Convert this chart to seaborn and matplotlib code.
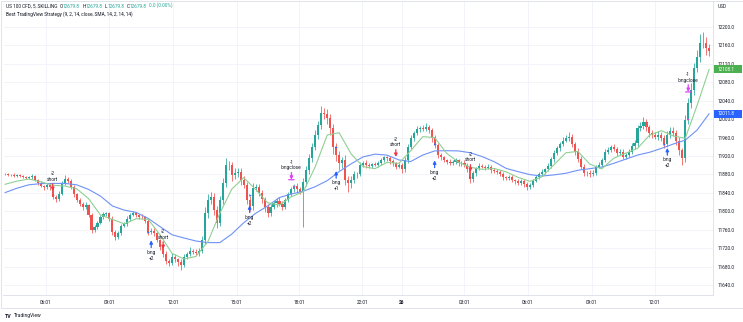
import numpy as np
import pandas as pd
import matplotlib
matplotlib.use("Agg")
import matplotlib.pyplot as plt
import matplotlib.transforms as mtransforms
from matplotlib.patches import Rectangle
import seaborn as sns

# ---------------- data ----------------
first_open = 11880.0
closes = [
    11881, 11879, 11879.5, 11876.5, 11878, 11876, 11874.5, 11872, 11873.5, 11876.5,
    11868, 11862, 11855, 11852, 11856.5, 11852, 11831.5, 11827, 11837.5, 11860.5,
    11871, 11866.5, 11852, 11837.5, 11824.5, 11816, 11808.5, 11813.5, 11792, 11759.5,
    11765, 11775, 11787, 11794, 11795.5, 11784, 11755.5, 11745, 11752, 11768,
    11772.5, 11784, 11792, 11795.5, 11791, 11788.5, 11787, 11779.5, 11755.5, 11758,
    11752, 11737.5, 11723, 11707, 11693, 11688.5, 11701.5, 11695.5, 11690, 11683.5,
    11701.5, 11707, 11714.5, 11712.5, 11710, 11714.5, 11737.5, 11795.5, 11824.5, 11831.5,
    11802.5, 11775, 11824.5, 11860.5, 11900.5, 11900, 11878.5, 11884, 11886, 11868,
    11857, 11824.5, 11811.5, 11850, 11852, 11840.5, 11826, 11808.5, 11797, 11810,
    11817, 11823, 11816, 11810, 11824.5, 11837.5, 11847.5, 11855, 11847.5, 11842.5,
    11864, 11889.5, 11915, 11940, 11965.5, 11987, 12012.5, 12011, 12001.5, 11980,
    11940, 11922, 11904, 11911.5, 11868, 11860.5, 11868, 11881,
    11881, 11900.5, 11905.5, 11900, 11898.5, 11902.5, 11901, 11905.5, 11911.5, 11917, 11915, 11908.5,
    11904, 11897, 11900, 11891, 11911.5, 11940.5, 11958.5, 11969, 11978, 11980,
    11979.5, 11982, 11976.5, 11958.5, 11944, 11922, 11917, 11911.5, 11907.5, 11905.5,
    11907.5, 11911.5, 11904, 11905.5, 11900, 11891, 11869.5, 11882.5, 11893, 11898.5,
    11897, 11894, 11897, 11889.5, 11888, 11885.5, 11881, 11873.5, 11872.5, 11875,
    11868, 11865, 11862, 11866.5, 11859, 11853.5, 11857, 11866.5, 11873.5, 11881,
    11886, 11891, 11898.5, 11913, 11927, 11936.5, 11946, 11953.5, 11958.5, 11962,
    11946, 11929.5, 11913, 11897, 11882.5, 11884, 11881, 11884, 11897, 11900.5,
    11911.5, 11929.5, 11933, 11939, 11936, 11926, 11929.5, 11918.5, 11922, 11929.5,
    11941.5, 11947.5, 11980, 11985, 11994.5, 11982, 11969, 11965.5, 11962, 11965.5,
    11958.5, 11946, 11965.5, 11975, 11970.5, 11953.5, 11933, 11915, 11998, 12034.5,
    12063.5, 12110.5, 12134, 12164.5, 12166, 12153.5, 12148.5,
]
up_wick = [
    2, 3, 2, 3, 2, 2, 3, 2, 3, 4,
    3, 2, 4, 3, 5, 4, 3, 4, 6, 5,
    8, 4, 3, 4, 3, 5, 4, 6, 3, 4,
    5, 4, 6, 5, 4, 3, 5, 4, 6, 5,
    4, 5, 4, 6, 3, 4, 5, 3, 4, 5,
    5, 4, 3, 5, 6, 4, 7, 5, 4, 6,
    6, 5, 7, 4, 6, 5, 9, 14, 12, 10,
    8, 10, 9, 11, 15, 9, 8, 10, 7, 9,
    8, 6, 9, 12, 7, 8, 6, 5, 7, 6,
    6, 5, 7, 6, 5, 4, 6, 5, 7, 5,
    8, 9, 10, 8, 12, 9, 16, 12, 10, 9,
    10, 8, 9, 7, 10, 8, 9, 6,
    5, 6, 4, 5, 4, 3, 5, 4, 5, 4, 3, 4,
    4, 3, 5, 4, 6, 5, 7, 6, 8, 5,
    7, 9, 6, 5, 6, 4, 5, 4, 3, 5,
    4, 5, 3, 4, 5, 4, 6, 5, 4, 6,
    5, 4, 6, 4, 5, 3, 4, 5, 4, 3,
    4, 3, 5, 4, 3, 4, 5, 4, 6, 5,
    5, 4, 6, 5, 7, 6, 5, 8, 6, 10,
    6, 5, 7, 6, 5, 4, 6, 5, 4, 6,
    5, 6, 7, 5, 6, 4, 5, 6, 4, 5,
    6, 7, 8, 9, 10, 6, 5, 7, 6, 8,
    7, 6, 9, 8, 7, 6, 8, 5, 10, 12,
    14, 12, 15, 20, 24, 12, 10,
]
dn_wick = [
    2, 2, 3, 2, 3, 2, 2, 3, 2, 3,
    3, 4, 3, 5, 3, 6, 5, 7, 4, 3,
    4, 5, 4, 6, 5, 4, 6, 4, 5, 6,
    5, 4, 3, 4, 5, 6, 7, 8, 5, 4,
    3, 4, 5, 3, 4, 5, 4, 6, 7, 5,
    6, 5, 7, 6, 8, 7, 5, 6, 8, 10,
    5, 6, 4, 6, 5, 7, 6, 8, 10, 9,
    10, 12, 8, 9, 7, 10, 12, 8, 9, 10,
    7, 9, 10, 8, 6, 7, 8, 9, 10, 7,
    6, 7, 5, 8, 6, 5, 4, 6, 7, 6,
    77, 10, 8, 9, 7, 8, 9, 10, 12, 14,
    15, 12, 14, 10, 12, 18, 9, 7,
    8, 5, 4, 5, 4, 5, 3, 4, 5, 4, 5, 6,
    5, 6, 4, 7, 5, 6, 5, 7, 4, 6,
    5, 6, 7, 8, 6, 7, 6, 5, 4, 5,
    5, 4, 6, 5, 4, 6, 9, 7, 5, 4,
    4, 5, 3, 6, 4, 5, 4, 6, 5, 4,
    5, 6, 4, 5, 6, 7, 5, 4, 3, 4,
    4, 5, 3, 4, 5, 4, 6, 5, 4, 5,
    6, 7, 5, 6, 7, 5, 6, 4, 5, 4,
    4, 5, 6, 4, 5, 6, 4, 5, 6, 4,
    5, 6, 7, 5, 6, 7, 8, 6, 5, 7,
    6, 8, 7, 6, 8, 9, 10, 14, 9, 8,
    10, 12, 9, 11, 10, 14, 12,
]

# moving averages, read every 4th bar
ma_step = 4
ma_fast = [
    11858.5, 11865.5, 11870, 11864, 11856.5, 11855, 11849, 11827.5, 11792, 11782.5,
    11772.5, 11784, 11782.5, 11748.5, 11708.5, 11696.5, 11702, 11734, 11795.5, 11848,
    11873, 11847.5, 11818.5, 11813.5, 11831.5, 11842.5, 11897, 11965.5, 11970.5, 11924.5,
    11897, 11892.5, 11906, 11904, 11931.5, 11962, 11960, 11926, 11906.5, 11895.5,
    11891, 11893, 11885.5, 11873.5, 11865, 11875, 11901, 11927, 11930, 11902.5,
    11892, 11915, 11926, 11936.5, 11965, 11975, 11963.5, 11958.5, 12030.5, 12108.1,
]
ma_slow = [
    11840.5, 11850, 11857.5, 11860, 11860.5, 11860.5, 11857.5, 11847.5, 11833, 11811.5,
    11802.5, 11797.5, 11784.5, 11766.5, 11749, 11742, 11735.5, 11732, 11732, 11750.5,
    11775, 11795.5, 11811.5, 11830, 11837.5, 11843.5, 11853.5, 11866.5, 11886, 11903,
    11918, 11924, 11922, 11911.5, 11908, 11922, 11931, 11931.5, 11931, 11927,
    11918.5, 11907.5, 11893, 11886, 11879.5, 11876.5, 11879, 11882.5, 11889, 11892.5,
    11896, 11904, 11913, 11922, 11928, 11936.5, 11946, 11954.5, 11976.5, 12011.8,
]

tick_bars = [13.7, 35, 56.3, 77.7, 98.7, 119.7, 133, 154, 175.3, 196.7, 217.7]
tick_labels = ["06:01", "09:01", "12:01", "15:01", "18:01", "22:01", "26",
               "03:01", "06:01", "09:01", "12:01"]
price_ticks = list(range(11640, 12201, 40))

sig_bars = [16, 49, 53, 82, 96, 111, 131, 144, 156, 222, 229]
sig_kind = ["short", "long", "short", "long", "longclose", "long", "short",
            "long", "short", "long", "longclose"]
sig_qty = ["-2", "+2", "-2", "+2", "-1", "+1", "-2", "+2", "-2", "+2", "-1"]
sig_tip = [11844, 11737, 11718, 11813, 11868.5, 11887.5, 11918, 11910.5,
           11885.5, 11937.5, 12059]
fill_bars = [16, 48, 82, 97, 111, 144, 156, 221, 229]
fill_kind = ["short", "long", "long", "longclose", "long", "long", "short",
             "long", "longclose"]
fill_price = [11835, 11756, 11835, 11855, 11940, 11946, 11875, 11946, 12000]

header_pieces = [("US 100 CFD, 5, SKILLING", "dark"), ("O", "dark"), ("12679.8", "num"),
                 ("H", "dark"), ("12679.8", "num"), ("L", "dark"), ("12679.8", "num"),
                 ("C", "dark"), ("12679.8", "num"), ("0.0 (0.00%)", "num")]
indicator_title = "Best TradingView Strategy (9, 2, 14, close, SMA, 14, 2, 14, 14)"

# ---------------- style ----------------
sns.set_theme(style="white")
plt.rcParams["font.family"] = ["Roboto", "DejaVu Sans"]
UP, DN = "#26a69a", "#ef5350"
DARK = "#131722"
GRID = "#f0f3fa"
KCOL = {"long": "#2962ff", "short": "#f23645", "longclose": "#e040fb"}
FS = 3.4

W, H = 743, 322
fig = plt.figure(figsize=(W / 100, H / 100), dpi=100)
fig.patch.set_facecolor("white")
ax = fig.add_axes([3 / W, (H - 295) / H, 710 / W, 294 / H])
ax.set_facecolor("white")

n = len(closes)
opens = [first_open] + closes[:-1]
df = pd.DataFrame({"bar": np.arange(n), "open": opens, "close": closes,
                   "uw": up_wick, "dw": dn_wick})
df["top"] = df[["open", "close"]].max(axis=1)
df["bot"] = df[["open", "close"]].min(axis=1)
df["high"] = df["top"] + df["uw"]
df["low"] = df["bot"] - df["dw"]
cols = np.where(df["close"] >= df["open"], UP, DN)

ax.vlines(df["bar"], df["low"], df["high"], colors=cols, linewidth=0.55, zorder=2)
ax.bar(df["bar"], (df["top"] - df["bot"]).clip(lower=0.8), bottom=df["bot"],
       width=0.7, color=cols, linewidth=0, zorder=3)

ma_df = pd.DataFrame({"bar": np.arange(0, n, ma_step)[:len(ma_fast)],
                      "fast": ma_fast, "slow": ma_slow})
sns.lineplot(data=ma_df, x="bar", y="slow", ax=ax, color="#6f92f6", linewidth=0.8, zorder=4)
sns.lineplot(data=ma_df, x="bar", y="fast", ax=ax, color="#8fd092", linewidth=0.8, zorder=4)

# signals
for b, k, q, tip in zip(sig_bars, sig_kind, sig_qty, sig_tip):
    c = KCOL[k]
    if k == "long":
        ax.annotate("", xy=(b, tip), xytext=(0, -5.2), textcoords="offset points",
                    arrowprops=dict(arrowstyle="-|>", color=c, lw=0.9,
                                    mutation_scale=4.5, shrinkA=0, shrinkB=0), zorder=6)
        ax.annotate(f"long\n{q}", xy=(b, tip), xytext=(0, -6.8), textcoords="offset points",
                    ha="center", va="top", fontsize=FS, color=DARK, linespacing=1.15, zorder=6)
    else:
        ax.annotate("", xy=(b, tip), xytext=(0, 5.2), textcoords="offset points",
                    arrowprops=dict(arrowstyle="-|>", color=c, lw=0.9,
                                    mutation_scale=4.5, shrinkA=0, shrinkB=0), zorder=6)
        if k == "longclose":
            ax.annotate("", xy=(b - 0.9, tip), xytext=(b + 0.9, tip),
                        arrowprops=dict(arrowstyle="-", color=c, lw=0.9,
                                        shrinkA=0, shrinkB=0), zorder=6)
        ax.annotate(f"{q}\n{k}", xy=(b, tip), xytext=(0, 6.8), textcoords="offset points",
                    ha="center", va="bottom", fontsize=FS, color=DARK, linespacing=1.15, zorder=6)

for b, k, p in zip(fill_bars, fill_kind, fill_price):
    ax.scatter([b], [p], marker=">", s=3, color=KCOL[k], linewidths=0, zorder=7)

# axes
ax.set_xlim(-0.67, n + 0.3)
ax.set_ylim(11618.3, 12256.4)
ax.set_xticks(tick_bars)
ax.set_xticklabels(tick_labels)
for lab in ax.get_xticklabels():
    if lab.get_text() == "26":
        lab.set_fontweight("bold")
ax.set_yticks(price_ticks)
ax.set_yticklabels([f"{v:.1f}" for v in price_ticks])
ax.yaxis.tick_right()
ax.tick_params(axis="both", length=0, labelsize=FS, colors=DARK)
ax.tick_params(axis="x", pad=3.6)
ax.tick_params(axis="y", pad=3.2)
ax.grid(True, color=GRID, linewidth=0.6)
ax.set_axisbelow(True)
ax.set_xlabel("")
ax.set_ylabel("")
for s in ["left", "top"]:
    ax.spines[s].set_visible(False)
for s in ["right", "bottom"]:
    ax.spines[s].set_color("#e0e3eb")
    ax.spines[s].set_linewidth(0.7)

# price labels on the right axis
blend = mtransforms.blended_transform_factory(fig.transFigure, ax.transData)
for val, col in [(ma_fast[-1], "#4caf50"), (ma_slow[-1], "#2962ff")]:
    ax.add_patch(Rectangle((714 / W, val - 8.7), 28 / W, 17.4, transform=blend,
                           facecolor=col, edgecolor="none", clip_on=False, zorder=8))
    ax.text(718 / W, val, f"{val:.1f}", transform=blend, ha="left", va="center",
            fontsize=FS, color="white", zorder=9, clip_on=False)

fig.text(718 / W, 1 - 6 / H, "USD", ha="left", va="center", fontsize=FS, color=DARK)

# header
colmap = {"dark": DARK, "num": "#26a69a"}
prev = None
for i, (txt, kind) in enumerate(header_pieces):
    if prev is None:
        prev = fig.text(6 / W, 1 - 6 / H, txt, ha="left", va="center",
                        fontsize=FS, color=colmap[kind])
    else:
        gap = 0 if header_pieces[i - 1][0] in ("O", "H", "L", "C") else 1.6
        prev = ax.annotate(txt, xy=(1, 0), xycoords=prev, xytext=(gap, 0),
                           textcoords="offset points", ha="left", va="bottom",
                           fontsize=FS, color=colmap[kind], annotation_clip=False)
fig.text(6 / W, 1 - 14.5 / H, indicator_title, ha="left", va="center", fontsize=FS, color=DARK)

# frame and footer
fig.add_artist(Rectangle((0.5 / W, 1 - 308 / H), 742 / W, 307.5 / H, transform=fig.transFigure,
                         fill=False, edgecolor="#e0e3eb", linewidth=0.7))
logo = fig.text(5 / W, 1 - 316 / H, "TV", ha="left", va="center", fontsize=3.8,
                fontweight="bold", color=DARK)
ax.annotate("TradingView", xy=(1, 0), xycoords=logo, xytext=(1.5, 0), textcoords="offset points",
            ha="left", va="bottom", fontsize=3.6, color=DARK, annotation_clip=False)

fig.savefig("out.png", dpi=100, facecolor="white")
